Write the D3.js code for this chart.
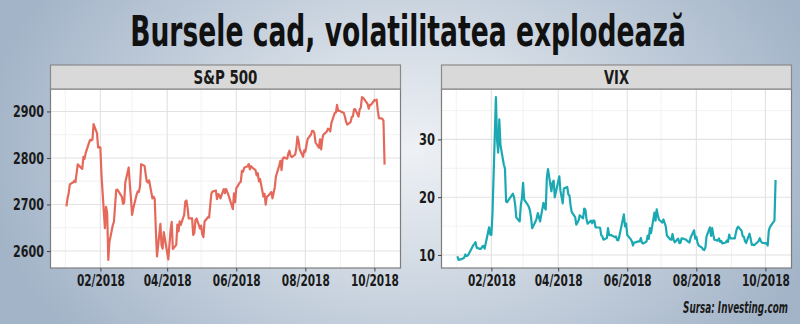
<!DOCTYPE html>
<html><head><meta charset="utf-8">
<script src="https://cdn.jsdelivr.net/npm/d3@7/dist/d3.min.js"></script>
<style>
html,body{margin:0;padding:0;background:#a8b8cb;}
svg{display:block;}
</style></head>
<body>
<svg id="c" width="800" height="324"></svg>
<script>
const dates = ["2018-01-02","2018-01-03","2018-01-04","2018-01-05","2018-01-08","2018-01-09","2018-01-10","2018-01-11","2018-01-12","2018-01-16","2018-01-17","2018-01-18","2018-01-19","2018-01-22","2018-01-23","2018-01-24","2018-01-25","2018-01-26","2018-01-29","2018-01-30","2018-01-31",
"2018-02-01","2018-02-02","2018-02-05","2018-02-06","2018-02-07","2018-02-08","2018-02-09","2018-02-12","2018-02-13","2018-02-14","2018-02-15","2018-02-16","2018-02-20","2018-02-21","2018-02-22","2018-02-23","2018-02-26","2018-02-27","2018-02-28",
"2018-03-01","2018-03-02","2018-03-05","2018-03-06","2018-03-07","2018-03-08","2018-03-09","2018-03-12","2018-03-13","2018-03-14","2018-03-15","2018-03-16","2018-03-19","2018-03-20","2018-03-21","2018-03-22","2018-03-23","2018-03-26","2018-03-27","2018-03-28","2018-03-29",
"2018-04-02","2018-04-03","2018-04-04","2018-04-05","2018-04-06","2018-04-09","2018-04-10","2018-04-11","2018-04-12","2018-04-13","2018-04-16","2018-04-17","2018-04-18","2018-04-19","2018-04-20","2018-04-23","2018-04-24","2018-04-25","2018-04-26","2018-04-27","2018-04-30",
"2018-05-01","2018-05-02","2018-05-03","2018-05-04","2018-05-07","2018-05-08","2018-05-09","2018-05-10","2018-05-11","2018-05-14","2018-05-15","2018-05-16","2018-05-17","2018-05-18","2018-05-21","2018-05-22","2018-05-23","2018-05-24","2018-05-25","2018-05-29","2018-05-30","2018-05-31",
"2018-06-01","2018-06-04","2018-06-05","2018-06-06","2018-06-07","2018-06-08","2018-06-11","2018-06-12","2018-06-13","2018-06-14","2018-06-15","2018-06-18","2018-06-19","2018-06-20","2018-06-21","2018-06-22","2018-06-25","2018-06-26","2018-06-27","2018-06-28","2018-06-29",
"2018-07-02","2018-07-03","2018-07-05","2018-07-06","2018-07-09","2018-07-10","2018-07-11","2018-07-12","2018-07-13","2018-07-16","2018-07-17","2018-07-18","2018-07-19","2018-07-20","2018-07-23","2018-07-24","2018-07-25","2018-07-26","2018-07-27","2018-07-30","2018-07-31",
"2018-08-01","2018-08-02","2018-08-03","2018-08-06","2018-08-07","2018-08-08","2018-08-09","2018-08-10","2018-08-13","2018-08-14","2018-08-15","2018-08-16","2018-08-17","2018-08-20","2018-08-21","2018-08-22","2018-08-23","2018-08-24","2018-08-27","2018-08-28","2018-08-29","2018-08-30","2018-08-31",
"2018-09-04","2018-09-05","2018-09-06","2018-09-07","2018-09-10","2018-09-11","2018-09-12","2018-09-13","2018-09-14","2018-09-17","2018-09-18","2018-09-19","2018-09-20","2018-09-21","2018-09-24","2018-09-25","2018-09-26","2018-09-27","2018-09-28",
"2018-10-01","2018-10-02","2018-10-03","2018-10-04","2018-10-05","2018-10-08","2018-10-09","2018-10-10"];

const spx = [2695.81,2713.06,2723.99,2743.15,2747.71,2751.29,2748.23,2767.56,2786.24,2776.42,2802.56,2798.03,2810.30,2832.97,2839.13,2837.54,2839.25,2872.87,2853.53,2822.43,2823.81,
2821.98,2762.13,2648.94,2695.14,2681.66,2581.00,2619.55,2656.00,2662.94,2698.63,2731.20,2732.22,2716.26,2701.33,2703.96,2747.30,2779.60,2744.28,2713.83,
2677.67,2691.25,2720.94,2728.12,2726.80,2738.97,2786.57,2783.02,2765.31,2749.48,2747.33,2752.01,2712.92,2716.94,2711.93,2643.69,2588.26,2658.55,2612.62,2605.00,2640.87,
2581.88,2614.45,2644.69,2662.84,2604.47,2613.16,2656.87,2642.19,2663.99,2656.30,2677.84,2706.39,2708.64,2693.13,2670.14,2670.29,2634.56,2639.40,2666.94,2669.91,2648.05,
2654.80,2635.67,2629.73,2663.42,2672.63,2671.92,2697.79,2723.07,2727.72,2730.13,2711.45,2722.46,2720.13,2712.97,2733.01,2724.44,2733.29,2727.76,2721.33,2689.86,2724.01,2705.27,
2734.62,2746.87,2748.80,2772.35,2770.37,2779.03,2782.00,2786.85,2775.63,2782.49,2779.66,2773.75,2762.59,2767.32,2749.76,2754.88,2717.07,2723.06,2699.63,2716.31,2718.37,
2726.71,2713.22,2736.61,2759.82,2784.17,2793.84,2774.02,2798.29,2801.31,2798.43,2809.55,2815.62,2804.49,2801.83,2806.98,2820.40,2846.07,2837.44,2818.82,2802.60,2816.29,
2813.36,2827.22,2840.35,2850.40,2858.45,2857.70,2853.58,2833.28,2821.93,2839.96,2818.37,2840.69,2850.13,2857.05,2862.96,2861.82,2856.98,2874.69,2896.74,2897.52,2914.04,2901.13,2901.52,
2896.72,2888.60,2878.05,2871.68,2877.13,2887.89,2888.92,2904.18,2904.98,2888.80,2904.31,2907.95,2930.75,2929.67,2919.37,2915.56,2905.97,2914.00,2913.98,
2924.59,2923.43,2925.51,2901.61,2885.57,2884.43,2880.34,2785.68];

const vix = [9.77,9.15,9.22,9.22,9.52,10.08,9.82,9.88,10.16,11.66,11.91,12.22,11.27,11.03,11.10,11.47,11.58,11.08,13.84,14.79,13.54,
13.47,17.31,37.32,29.98,27.73,33.46,29.06,25.61,24.97,19.26,19.13,19.46,20.60,20.02,18.72,16.49,15.80,18.59,19.85,
22.47,19.59,18.73,18.36,17.76,16.54,14.64,15.78,16.35,17.23,16.59,15.80,19.02,18.20,17.86,23.34,24.87,21.03,22.50,22.87,19.97,
23.62,21.10,20.06,18.94,21.49,21.77,20.47,20.24,18.49,17.41,16.56,15.25,15.60,15.96,16.88,16.34,18.02,17.84,16.24,15.41,15.93,
15.49,15.97,15.90,14.77,14.75,14.71,13.42,13.23,12.65,12.93,14.63,13.42,13.43,13.42,13.08,13.22,12.58,12.53,13.22,17.02,14.94,15.43,
13.46,12.74,12.40,11.64,12.13,12.18,12.35,12.34,12.94,12.12,11.98,12.31,13.35,12.79,14.64,13.77,17.33,15.92,17.91,16.85,16.09,
15.60,16.14,14.97,13.37,12.69,12.64,13.63,12.58,12.18,12.83,12.06,12.10,12.87,12.86,12.62,12.41,12.29,12.14,13.03,14.26,12.83,
13.15,12.19,11.64,11.27,10.93,10.85,11.27,13.16,14.78,13.31,14.64,13.45,12.64,12.49,12.86,12.25,12.41,11.99,12.16,12.50,12.25,13.53,12.86,
12.88,13.91,14.65,14.88,14.16,13.22,13.14,12.37,12.07,13.68,12.79,11.75,11.80,11.68,12.20,12.42,12.89,12.41,12.12,
12.00,12.05,11.61,14.22,14.82,15.69,15.95,22.96];

const spxTicks = [2600,2700,2800,2900];
const vixTicks = [10,20,30];
const monthTicks = ["2018-02-01","2018-04-01","2018-06-01","2018-08-01","2018-10-01"];
const minorMonths = ["2018-01-01","2018-03-01","2018-05-01","2018-07-01","2018-09-01"];
const titleText = "Bursele cad, volatilitatea explodează";
const sourceText = "Sursa: Investing.com";

const parse = d3.utcParse("%Y-%m-%d");
const fmt = d3.utcFormat("%m/%Y");
const D = dates.map(parse);

const svg = d3.select("#c");
const defs = svg.append("defs");
const rg = defs.append("radialGradient").attr("id","bg")
  .attr("gradientUnits","userSpaceOnUse").attr("cx",410).attr("cy",150).attr("r",430)
  .attr("gradientTransform","translate(410,150) scale(1,0.7) translate(-410,-150)");
rg.append("stop").attr("offset","0").attr("stop-color","#eef1f5");
rg.append("stop").attr("offset","0.35").attr("stop-color","#d5dde6");
rg.append("stop").attr("offset","1").attr("stop-color","#a3b4c8");
svg.append("rect").attr("width",800).attr("height",324).attr("fill","url(#bg)");

const FONT = "'DejaVu Sans Condensed','Liberation Sans Narrow',sans-serif";

// squeeze a text horizontally to a target width around its anchor x
function fit(sel, target){
  sel.each(function(){
    const t = d3.select(this);
    const len = this.getComputedTextLength();
    if(!len) return;
    const s = Math.min(1, target/len);
    const ax = +(t.attr("x")||0);
    t.attr("transform", `translate(${ax},0) scale(${s},1) translate(${-ax},0)`);
  });
}

const title = svg.append("text").attr("x",408).attr("y",46).attr("text-anchor","middle")
  .attr("font-family",FONT).attr("font-weight","bold").attr("font-size",42)
  .attr("fill","#111").text(titleText);
fit(title, 556);

const src = svg.append("text").attr("x",788).attr("y",313).attr("text-anchor","end")
  .attr("font-family",FONT).attr("font-weight","bold").attr("font-style","italic").attr("font-size",15)
  .attr("fill","#1a1a1a").text(sourceText);
fit(src, 105);

function panel(opts){
  const {x0,x1,y0,y1,stripTop,title,values,ticks,color,stripW,yLabW} = opts;
  const ext = d3.extent(D); const span = ext[1]-ext[0];
  const x = d3.scaleUtc().domain([new Date(+ext[0]-span*0.05), new Date(+ext[1]+span*0.05)]).range([x0,x1]);
  const ve = d3.extent(values); const vs = ve[1]-ve[0];
  const y = d3.scaleLinear().domain([ve[0]-vs*0.05, ve[1]+vs*0.05]).range([y1,y0]);
  const g = svg.append("g");
  g.append("rect").attr("x",x0).attr("y",y0).attr("width",x1-x0).attr("height",y1-y0).attr("fill","#fff");
  const step = ticks[1]-ticks[0];
  const yMinor = [];
  for(let i=0;i<=ticks.length;i++){
    const v = ticks[0]-step/2 + i*step;
    if(v>y.domain()[0] && v<y.domain()[1]) yMinor.push(v);
  }
  g.selectAll(".ym").data(yMinor).join("line").attr("x1",x0).attr("x2",x1)
    .attr("y1",d=>y(d)).attr("y2",d=>y(d)).attr("stroke","#efefef").attr("stroke-width",0.8);
  g.selectAll(".xm").data(minorMonths.map(parse).filter(d=>d>x.domain()[0]&&d<x.domain()[1])).join("line")
    .attr("y1",y0).attr("y2",y1).attr("x1",d=>x(d)).attr("x2",d=>x(d)).attr("stroke","#efefef").attr("stroke-width",0.8);
  g.selectAll(".yM").data(ticks).join("line").attr("x1",x0).attr("x2",x1)
    .attr("y1",d=>y(d)).attr("y2",d=>y(d)).attr("stroke","#e2e2e2").attr("stroke-width",1.1);
  g.selectAll(".xM").data(monthTicks.map(parse)).join("line")
    .attr("y1",y0).attr("y2",y1).attr("x1",d=>x(d)).attr("x2",d=>x(d)).attr("stroke","#e2e2e2").attr("stroke-width",1.1);
  const line = d3.line().x((d,i)=>x(D[i])).y(d=>y(d));
  g.append("path").datum(values).attr("d",line).attr("fill","none").attr("stroke",color)
    .attr("stroke-width",2.2).attr("stroke-linejoin","round");
  g.append("rect").attr("x",x0).attr("y",y0).attr("width",x1-x0).attr("height",y1-y0)
    .attr("fill","none").attr("stroke","#7d7d7d").attr("stroke-width",1.2);
  g.append("rect").attr("x",x0).attr("y",stripTop).attr("width",x1-x0).attr("height",y0-stripTop)
    .attr("fill","#d9d9d9").attr("stroke","#8a8a8a").attr("stroke-width",1.2);
  const st = g.append("text").attr("x",(x0+x1)/2).attr("y",stripTop+19).attr("text-anchor","middle")
    .attr("font-family",FONT).attr("font-weight","bold").attr("font-size",19).attr("fill","#1a1a1a").text(title);
  fit(st, stripW);
  const ya = d3.axisLeft(y).tickValues(ticks).tickSize(3.5).tickPadding(3).tickFormat(d3.format("d"));
  const yg = g.append("g").attr("transform",`translate(${x0},0)`).call(ya);
  const xa = d3.axisBottom(x).tickValues(monthTicks.map(parse)).tickSize(3.5).tickPadding(3).tickFormat(fmt);
  const xg = g.append("g").attr("transform",`translate(0,${y1})`).call(xa);
  [yg,xg].forEach(a=>{
    a.select(".domain").remove();
    a.selectAll(".tick line").attr("stroke","#444");
    a.selectAll("text").attr("font-family",FONT).attr("font-weight","bold").attr("font-size",16).attr("fill","#1a1a1a");
  });
  fit(yg.selectAll("text"), yLabW);
  fit(xg.selectAll("text"), 48);
}

panel({x0:50.5,x1:400.5,y0:89,y1:268,stripTop:65,title:"S&P 500",values:spx,ticks:spxTicks,color:"#e5695a",stripW:64,yLabW:31});
panel({x0:441.5,x1:791.5,y0:89,y1:268,stripTop:65,title:"VIX",values:vix,ticks:vixTicks,color:"#1aa9b2",stripW:25,yLabW:16});
</script>
</body></html>
